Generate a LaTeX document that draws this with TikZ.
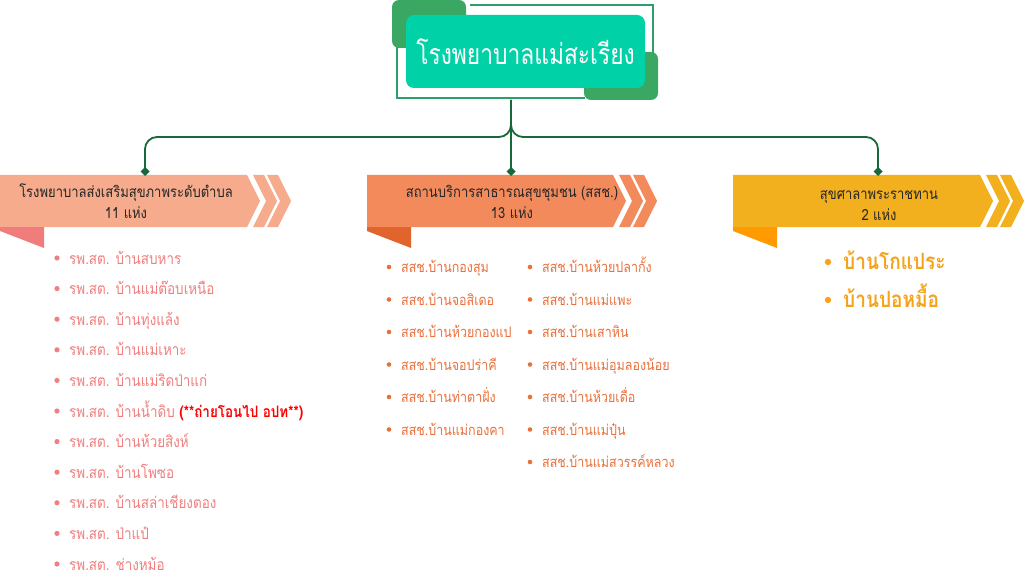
\documentclass[tikz,border=0pt]{standalone}
\usepackage{fontspec}
\newfontfamily\thai[Script=Thai,FakeStretch=0.85]{Loma}
\newfontfamily\thaititle[Script=Thai,FakeStretch=0.8]{Loma}
\usetikzlibrary{arrows.meta}
\definecolor{teal1}{HTML}{00D1A6}
\definecolor{dgreen}{HTML}{3AA862}
\definecolor{lineg}{HTML}{17693A}
\definecolor{frameg}{HTML}{2E9E6A}
\definecolor{lbody}{HTML}{F5AB8C}
\definecolor{ltab}{HTML}{F07C7C}
\definecolor{mbody}{HTML}{F28A5C}
\definecolor{mtab}{HTML}{E0642C}
\definecolor{rbody}{HTML}{F2B01E}
\definecolor{rtab}{HTML}{FF9A00}
\definecolor{ltext}{HTML}{F07F7F}
\definecolor{mtext}{HTML}{E9713D}
\definecolor{rtext}{HTML}{F5A31A}
\newcommand\mybanner[4]{% x0, xb, body colour, tab colour
  \fill[#3] (#1,175) -- (#2,175) -- (#2+13,201) -- (#2,227) -- (#1,227) -- cycle;
  \fill[#3] (#2+6,175) -- (#2+17,175) -- (#2+30,201) -- (#2+17,227) -- (#2+6,227) -- (#2+19,201) -- cycle;
  \fill[#3] (#2+20,175) -- (#2+31,175) -- (#2+44,201) -- (#2+31,227) -- (#2+20,227) -- (#2+33,201) -- cycle;
  \fill[#4] (#1,227) -- (#1+44,227) -- (#1+44,248) -- (#1,231) -- cycle;
}
\tikzset{
  conn/.style={draw=lineg, line width=1.8pt, rounded corners=12pt, -{Diamond[length=9pt,width=9pt]}},
  btext/.style={font=\thai\fontsize{15.3}{17}\selectfont, text=black!85, anchor=base, inner sep=0pt},
  litem/.style={font=\thai\fontsize{15.8}{18}\selectfont, text=ltext, anchor=base west, inner sep=0pt},
  mitem/.style={font=\thai\fontsize{14.7}{17}\selectfont, text=mtext, anchor=base west, inner sep=0pt},
  ritem/.style={font=\thai\bfseries\fontsize{22.4}{25}\selectfont, text=rtext, anchor=base west, inner sep=0pt},
}
\begin{document}
\begin{tikzpicture}[x=1pt,y=-1pt]
\useasboundingbox[fill=white] (0,0) rectangle (1024,580);
% title decoration
\draw[frameg, line width=1.1pt] (470,5) -- (653,5) -- (653,60);
\draw[frameg, line width=1.1pt] (397,40) -- (397,98) -- (585,98);
\fill[dgreen, rounded corners=7pt] (392,0) rectangle (466,48);
\fill[dgreen, rounded corners=7pt] (584,52) rectangle (658,100);
\node[fill=teal1, rounded corners=8pt, minimum width=239pt, minimum height=73pt, inner sep=0pt,
  text=white, font=\thaititle\fontsize{28.5}{30}\selectfont] (title) at (525.5,51.5) {โรงพยาบาลแม่สะเรียง};
% banners
\mybanner{0}{247}{lbody}{ltab}
\mybanner{367}{613}{mbody}{mtab}
\mybanner{733}{980}{rbody}{rtab}
\coordinate (lt) at (145,176);
\coordinate (mt) at (511,176);
\coordinate (rt) at (878,176);
\coordinate (top) at (511,100);
% connectors
\draw[conn] (top) -- (511,137) -- (145,137) -- (lt);
\draw[conn] (top) -- (511,137) -- (878,137) -- (rt);
\draw[conn] (top) -- (mt);
% banner texts
\node[btext] (lb1) at (126,197) {โรงพยาบาลส่งเสริมสุขภาพระดับตำบล};
\node[btext] (lb2) at (126,218) {11 แห่ง};
\node[btext] (mb1) at (512,197) {สถานบริการสาธารณสุขชุมชน (สสช.)};
\node[btext] (mb2) at (512,218) {13 แห่ง};
\node[btext] (rb1) at (879,199) {สุขศาลาพระราชทาน};
\node[btext] (rb2) at (879,220) {2 แห่ง};
% left list
\foreach \t [count=\i from 0] in {รพ.สต. บ้านสบหาร, รพ.สต. บ้านแม่ต๊อบเหนือ, รพ.สต. บ้านทุ่งแล้ง, รพ.สต. บ้านแม่เหาะ, รพ.สต. บ้านแม่ริดป่าแก่,
  {รพ.สต. บ้านน้ำดิบ \textcolor{red}{\bfseries(**ถ่ายโอนไป อปท**)}}, รพ.สต. บ้านห้วยสิงห์, รพ.สต. บ้านโพซอ, รพ.สต. บ้านสล่าเชียงตอง, รพ.สต. ป่าแป๋, รพ.สต. ช่างหม้อ} {
  \fill[ltext] (57,258+30.6*\i) circle (2.6pt);
  \node[litem] (l\i) at (69,264+30.6*\i) {\t};
}
% middle list col 1
\foreach \t [count=\i from 0] in {สสช.บ้านกองสุม, สสช.บ้านจอสิเดอ, สสช.บ้านห้วยกองแป, สสช.บ้านจอปร่าคี, สสช.บ้านท่าตาฝั่ง, สสช.บ้านแม่กองคา} {
  \fill[mtext] (389,267+32.5*\i) circle (2.3pt);
  \node[mitem] (ma\i) at (401,272.5+32.5*\i) {\t};
}
% middle list col 2
\foreach \t [count=\i from 0] in {สสช.บ้านห้วยปลากั้ง, สสช.บ้านแม่แพะ, สสช.บ้านเสาหิน, สสช.บ้านแม่อุมลองน้อย, สสช.บ้านห้วยเดื่อ, สสช.บ้านแม่ปุ๋น, สสช.บ้านแม่สวรรค์หลวง} {
  \fill[mtext] (530,267+32.5*\i) circle (2.3pt);
  \node[mitem] (mb\i) at (542,272.5+32.5*\i) {\t};
}
% right list
\foreach \t [count=\i from 0] in {บ้านโกแประ, บ้านปอหมื้อ} {
  \fill[rtext] (828,262+38*\i) circle (3.2pt);
  \node[ritem] (r\i) at (843,269+38*\i) {\t};
}
\end{tikzpicture}
\end{document}
